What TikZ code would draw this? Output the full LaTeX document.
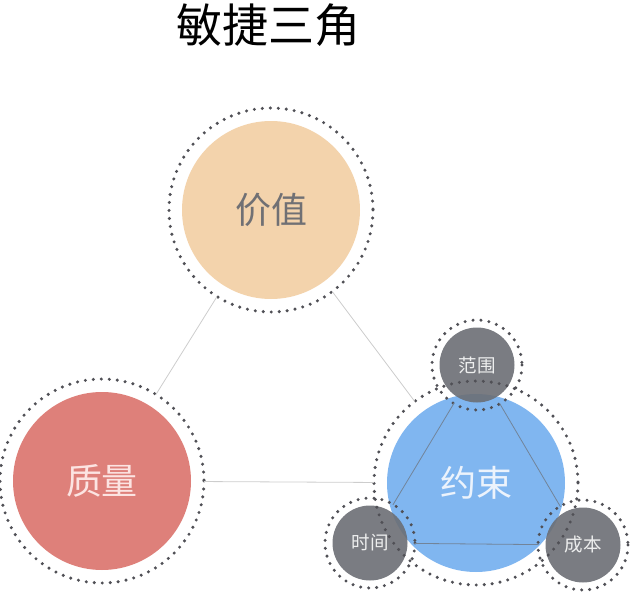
\documentclass[tikz,border=0pt]{standalone}
\usepackage{fontspec}
\newfontfamily\cjk{Noto Sans CJK SC}
\usetikzlibrary{positioning}
\definecolor{peach}{RGB}{243,211,172}
\definecolor{rose}{RGB}{222,128,122}
\definecolor{sky}{RGB}{128,182,240}
\definecolor{slate}{RGB}{108,110,116}
\definecolor{dotgray}{RGB}{80,80,86}
\definecolor{linegray}{RGB}{205,205,205}
\tikzset{
  big/.style={circle, minimum size=178pt, inner sep=0pt, outer sep=13pt,
              font=\cjk\fontsize{36}{40}\selectfont},
  sm/.style={circle, minimum size=75pt, inner sep=0pt, outer sep=7pt,
             fill=slate, fill opacity=0.9, text opacity=1, text=white!88!slate,
             font=\cjk\fontsize{18.5}{20}\selectfont},
  dotring/.style={dotgray, line width=3.4pt, line cap=round, dash pattern=on 0pt off 8pt},
  ln/.style={linegray, line width=0.8pt}
}
\begin{document}
\begin{tikzpicture}[x=1pt, y=-1pt]
  \useasboundingbox (0,0) rectangle (630,605);
  \node[font=\cjk\fontsize{46}{50}\selectfont] (title) at (268,25) {敏捷三角};
  % three big circles
  \node[big, fill=peach, text={rgb,255:red,112;green,112;blue,116}] (jz) at (271,210) {价值};
  \node[big, fill=rose, text={rgb,255:red,252;green,228;blue,226}] (zl) at (102,481) {质量};
  \node[big, fill=sky, text={rgb,255:red,236;green,243;blue,252}] (ys) at (476,483) {约束};
  % small circles of the constraint
  \node[sm] (fw) at (477,365) {范围};
  \node[sm] (sj) at (370,543) {时间};
  \node[sm] (cb) at (583,545) {成本};
  % dotted rings
  \foreach \n in {jz,zl,ys} \draw[dotring] (\n.center) circle (102);
  \foreach \n in {fw,sj,cb} \draw[dotring] (\n.center) circle (45);
  % links
  \draw[ln] (jz) -- (zl); \draw[ln] (jz) -- (ys); \draw[ln] (zl) -- (ys);
  \draw[ln, slate!70!sky] (fw) -- (sj); \draw[ln, slate!70!sky] (sj) -- (cb); \draw[ln, slate!70!sky] (cb) -- (fw);
\end{tikzpicture}
\end{document}
